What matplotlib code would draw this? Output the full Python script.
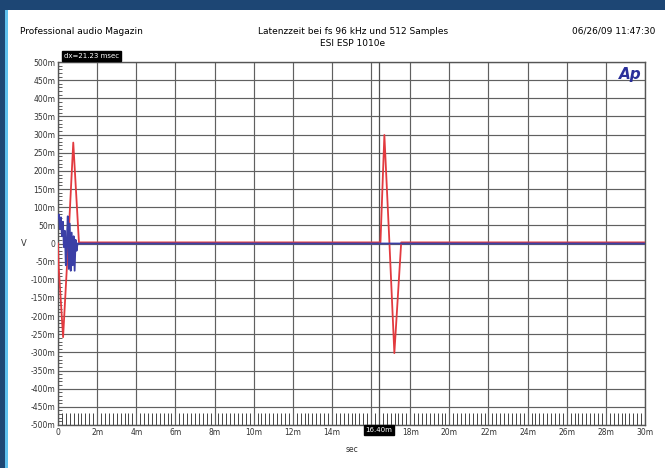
import matplotlib.pyplot as plt
from matplotlib.patches import Rectangle
from matplotlib.ticker import MultipleLocator, FuncFormatter

# Data (time in ms, level in mV)
red_t = [0.0, 0.03, 0.26, 0.52, 0.78, 1.07, 16.42, 16.48, 16.68, 16.94, 17.19, 17.54, 30.0]
red_v = [0, -60, -258, 0, 278, 3, 3, 3, 299, 0, -302, 3, 3]

blue_t = [0.0, 0.05, 0.1, 0.15, 0.2, 0.25, 0.3, 0.35, 0.4, 0.45, 0.5, 0.55,
          0.6, 0.65, 0.7, 0.75, 0.8, 0.85, 0.9, 0.95, 1.0, 1.1, 30.0]
blue_v = [70, 80, 40, 72, 20, 60, -10, 35, -60, 10, 75, -70,
          55, -75, 30, -60, 20, -75, 10, -20, 0, 0, 0]

cursor_ms = 16.4
cursor_label = "16.40m"
dx_label = "dx=21.23 msec"

fig = plt.figure(figsize=(6.65, 4.68), dpi=100)
fig.patch.set_facecolor('white')

# blue photo frame at top/left
fig.patches.append(Rectangle((0, 1 - 10/468), 1, 10/468, transform=fig.transFigure,
                             facecolor='#1d4674', edgecolor='none'))
fig.patches.append(Rectangle((0, 0), 5/665, 1, transform=fig.transFigure,
                             facecolor='#1d4674', edgecolor='none'))
fig.patches.append(Rectangle((5/665, 0), 2.5/665, 1 - 10/468, transform=fig.transFigure,
                             facecolor='#5fc0ee', edgecolor='none'))

ax = fig.add_axes([58/665, 1 - 425/468, 587/665, 363/468])
ax.set_xlim(0, 30)
ax.set_ylim(-500, 500)

ax.xaxis.set_major_locator(MultipleLocator(2))
ax.xaxis.set_minor_locator(MultipleLocator(0.2))
ax.yaxis.set_major_locator(MultipleLocator(50))
ax.yaxis.set_minor_locator(MultipleLocator(10))


def mlabel(v, pos):
    v = int(round(v))
    return "0" if v == 0 else "%dm" % v


def xlabel(v, pos):
    v = int(round(v))
    if v == 16:
        return ""
    return "0" if v == 0 else "%dm" % v


ax.xaxis.set_major_formatter(FuncFormatter(xlabel))
ax.yaxis.set_major_formatter(FuncFormatter(mlabel))

ax.grid(True, which='major', color='#606060', linewidth=0.85)
ax.tick_params(which='major', axis='both', labelsize=5.5, colors='#333333', length=0, pad=2)
ax.tick_params(which='minor', axis='x', direction='in', length=9, width=0.7, color='#444444')
ax.tick_params(which='minor', axis='y', direction='in', length=3, width=0.6, color='#444444')
for s in ax.spines.values():
    s.set_color('#555555')
    s.set_linewidth(1.0)

ax.plot(red_t, red_v, color='#e23a3f', linewidth=1.3, zorder=3)
ax.plot(blue_t, blue_v, color='#3b3fa6', linewidth=1.3, zorder=4)

# cursor
ax.axvline(cursor_ms, color='#505050', linewidth=0.9, zorder=2)
ax.text(cursor_ms, -505, cursor_label, ha='center', va='top', fontsize=5,
        color='white', bbox=dict(boxstyle='square,pad=0.25', fc='black', ec='black'))
ax.text(0.3, 508, dx_label, ha='left', va='bottom', fontsize=5,
        color='white', bbox=dict(boxstyle='square,pad=0.25', fc='black', ec='black'))

ax.text(0.995, 0.985, "Ap", transform=ax.transAxes, ha='right', va='top',
        fontsize=11, fontweight='bold', fontstyle='italic', color='#2a2f9a')

fig.text(24/665, 1 - 243/468, "V", fontsize=6, color='#333333', ha='center', va='center')
ax.set_xlabel("sec", fontsize=5.5, color='#333333', labelpad=6)

fig.text(20/665, 1 - 31/468, "Professional audio Magazin", fontsize=6.5, va='center', ha='left')
fig.text(353/665, 1 - 31/468, "Latenzzeit bei fs 96 kHz und 512 Samples", fontsize=6.5,
         va='center', ha='center')
fig.text(353/665, 1 - 43/468, "ESI ESP 1010e", fontsize=6.5, va='center', ha='center')
fig.text(655/665, 1 - 31/468, "06/26/09 11:47:30", fontsize=6.5, va='center', ha='right')

fig.savefig("out.png", dpi=100)
